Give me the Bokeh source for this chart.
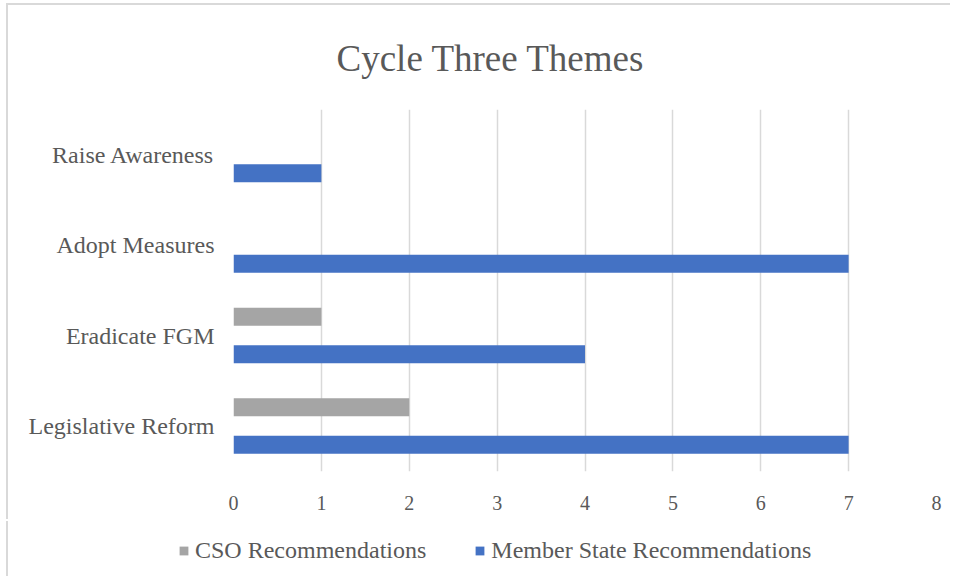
from bokeh.plotting import figure
from bokeh.models import FactorRange, Range1d, Legend, LegendItem, ColumnDataSource, FixedTicker
from bokeh.transform import dodge
from bokeh.embed import file_html
from bokeh.resources import INLINE

categories = ["Legislative Reform", "Eradicate FGM", "Adopt Measures", "Raise Awareness"]
member_state = [7, 4, 7, 1]
cso = [2, 1, 0, 0]
x_ticks = [0, 1, 2, 3, 4, 5, 6, 7, 8]
series_names = ["CSO Recommendations", "Member State Recommendations"]
series_colors = ["#A5A5A5", "#4472C4"]

source = ColumnDataSource(dict(cat=categories, member=member_state, cso=cso))

FONT = "Liberation Serif"
TXT = "#595959"
BORDER = "#d9d9d9"

p = figure(width=944, height=516, y_range=FactorRange(*categories), x_range=Range1d(0, 8),
           output_backend="svg", toolbar_location=None,
           min_border_left=225, min_border_right=16, min_border_top=90, min_border_bottom=50)
p.styles = {"margin-left": "8px", "margin-top": "5px",
            "box-shadow": f"-2px -2px 0 0 {BORDER}"}

r_cso = p.hbar(y=dodge("cat", 0.21, range=p.y_range), right="cso", left=0, height=0.2,
               source=source, color=series_colors[0], line_color=None)
r_ms = p.hbar(y=dodge("cat", -0.205, range=p.y_range), right="member", left=0, height=0.2,
              source=source, color=series_colors[1], line_color=None)

p.title.text = "Cycle Three Themes"
p.title.align = "left"
p.title.text_font = FONT
p.title.text_font_size = "37px"
p.title.text_font_style = "normal"
p.title.text_color = TXT
p.title.offset = 103
p.title.standoff = 61

p.outline_line_color = None
p.ygrid.grid_line_color = None
p.xgrid.grid_line_color = "#d9d9d9"
p.xgrid.grid_line_width = 1.5
p.xaxis.ticker = FixedTicker(ticks=x_ticks)

for ax in (p.xaxis, p.yaxis):
    ax.axis_line_color = None
    ax.major_tick_line_color = None
    ax.minor_tick_line_color = None
    ax.major_label_text_font = FONT
    ax.major_label_text_color = TXT
p.xaxis.major_label_text_font_size = "20px"
p.yaxis.major_label_text_font_size = "24px"
p.xaxis.major_label_standoff = 18
p.yaxis.major_label_standoff = 13

# legend strip below the chart (separate root so its frame spans the full width)
p2 = figure(width=944, height=55, x_range=Range1d(0, 8), y_range=FactorRange(*categories),
            output_backend="svg", toolbar_location=None,
            x_axis_location=None, y_axis_location=None,
            min_border_left=0, min_border_right=0, min_border_top=0, min_border_bottom=0)
p2.styles = {"margin-left": "8px", "box-shadow": f"-2px 0 0 0 {BORDER}"}
p2.grid.visible = False
p2.outline_line_color = None
lg_cso = p2.hbar(y="cat", right="cso", left=0, height=0.2, source=source,
                 color=series_colors[0], line_color=None, visible=False)
lg_ms = p2.hbar(y="cat", right="member", left=0, height=0.2, source=source,
                color=series_colors[1], line_color=None, visible=False)

legend = Legend(items=[LegendItem(label=series_names[0], renderers=[lg_cso]),
                       LegendItem(label=series_names[1], renderers=[lg_ms])],
                orientation="horizontal", location=(170, 12),
                label_text_font=FONT, label_text_font_size="24px", label_text_color=TXT,
                glyph_width=11, glyph_height=11, label_standoff=6, spacing=48,
                inactive_fill_alpha=0,
                border_line_color=None, background_fill_alpha=0, padding=0, margin=0)
p2.add_layout(legend, "center")

open("out.html", "w").write(file_html([p, p2], INLINE))
